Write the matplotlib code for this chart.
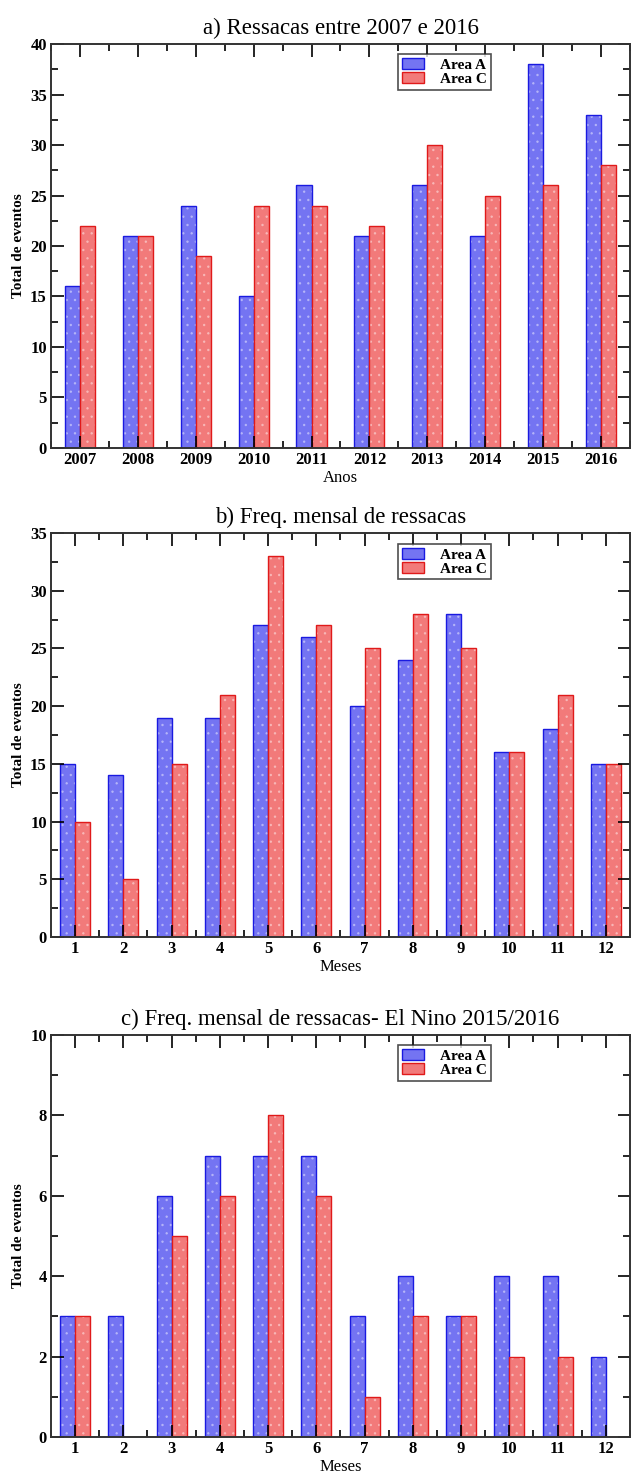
import matplotlib
matplotlib.use("Agg")
import matplotlib.pyplot as plt
from matplotlib.ticker import MultipleLocator
from matplotlib.patches import Patch
import numpy as np

plt.rcParams['font.family'] = ['Liberation Serif', 'DejaVu Serif']
plt.rcParams['hatch.linewidth'] = 0.6

# a) yearly totals
anos = [2007, 2008, 2009, 2010, 2011, 2012, 2013, 2014, 2015, 2016]
anos_area_a = [16, 21, 24, 15, 26, 21, 26, 21, 38, 33]
anos_area_c = [22, 21, 19, 24, 24, 22, 30, 25, 26, 28]

# b) monthly totals
meses = [1, 2, 3, 4, 5, 6, 7, 8, 9, 10, 11, 12]
meses_area_a = [15, 14, 19, 19, 27, 26, 20, 24, 28, 16, 18, 15]
meses_area_c = [10, 5, 15, 21, 33, 27, 25, 28, 25, 16, 21, 15]

# c) monthly totals, El Nino 2015/2016
nino_area_a = [3, 3, 6, 7, 7, 7, 3, 4, 3, 4, 4, 2]
nino_area_c = [3, 0, 5, 6, 8, 6, 1, 3, 3, 2, 2, 0]

BLUE_FILL = '#7474f2'
BLUE_EDGE = '#1a1ae0'
RED_FILL = '#f27a7a'
RED_EDGE = '#e01a1a'

fig = plt.figure(figsize=(6.31, 14.74), dpi=100)


def draw_bars(ax, x, vals, width, offset, fill, edge):
    x = np.asarray(x, dtype=float)
    ax.bar(x + offset, vals, width, align='edge', color=fill, linewidth=0)
    ax.bar(x + offset, vals, width, align='edge', color='none',
           edgecolor='#ffffff', hatch='..', linewidth=0, alpha=0.35)
    ax.bar(x + offset, vals, width, align='edge', color='none',
           edgecolor=edge, linewidth=1.0)


def panel(rect, x, a, c, width, ylim, ymaj, ymin, title, xlabel, leg_y):
    ax = fig.add_axes(rect)
    draw_bars(ax, x, a, width, -width, BLUE_FILL, BLUE_EDGE)
    draw_bars(ax, x, c, width, 0, RED_FILL, RED_EDGE)
    ax.set_xlim(x[0] - 0.5, x[-1] + 0.5)
    ax.set_ylim(0, ylim)
    ax.set_xticks(x)
    ax.set_xticklabels([str(v) for v in x])
    ax.xaxis.set_minor_locator(MultipleLocator(0.5))
    ax.yaxis.set_major_locator(MultipleLocator(ymaj))
    ax.yaxis.set_minor_locator(MultipleLocator(ymin))
    ax.tick_params(which='both', direction='in', top=True, right=True,
                   width=1.2, labelsize=12, pad=3)
    ax.tick_params(which='major', length=9)
    ax.tick_params(which='minor', length=5)
    for lab in ax.get_xticklabels() + ax.get_yticklabels():
        lab.set_fontweight('bold')
    for s in ax.spines.values():
        s.set_linewidth(1.4)
        s.set_color('#333333')
    ax.set_title(title, fontsize=16.5, pad=7)
    ax.set_xlabel(xlabel, fontsize=12, labelpad=1)
    ax.set_ylabel('Total de eventos', fontsize=11, fontweight='bold', labelpad=4)
    handles = [Patch(facecolor=BLUE_FILL, edgecolor=BLUE_EDGE, label='Area A'),
               Patch(facecolor=RED_FILL, edgecolor=RED_EDGE, label='Area C')]
    leg = ax.legend(handles=handles, loc='upper right', bbox_to_anchor=(0.76, leg_y),
                    fancybox=False, edgecolor='#222222', fontsize=11,
                    handlelength=1.4, handleheight=0.75, handletextpad=1.1,
                    borderpad=0.25, labelspacing=0.0, borderaxespad=0)
    leg.get_frame().set_linewidth(1.2)
    for t in leg.get_texts():
        t.set_fontweight('bold')
    return ax


left, width = 0.0808, 0.9176
panel([left, 0.6961, width, 0.2740], anos, anos_area_a, anos_area_c, 0.26,
      40, 5, 2.5, 'a) Ressacas entre 2007 e 2016', 'Anos', 0.975)
panel([left, 0.3643, width, 0.2741], meses, meses_area_a, meses_area_c, 0.31,
      35, 5, 2.5, 'b) Freq. mensal de ressacas', 'Meses', 0.973)
panel([left, 0.0251, width, 0.2727], meses, nino_area_a, nino_area_c, 0.31,
      10, 2, 1, 'c) Freq. mensal de ressacas- El Nino 2015/2016', 'Meses', 0.975)

fig.savefig('out.png', dpi=100)
